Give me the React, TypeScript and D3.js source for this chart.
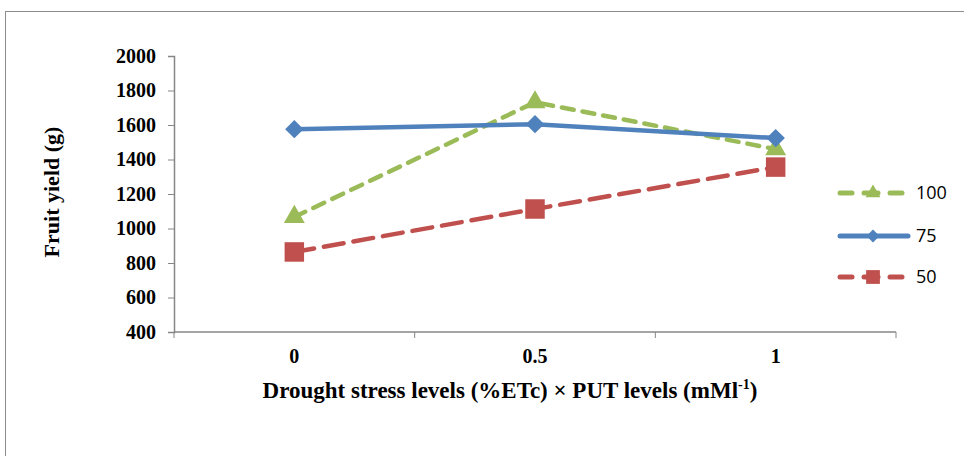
import { useEffect, useRef } from "react";
import * as d3 from "d3";

const W = 964;
const H = 456;
const M = { top: 56, left: 174, right: 68, bottom: 124 };

const categories = ["0", "0.5", "1"];
const yTicks = [400, 600, 800, 1000, 1200, 1400, 1600, 1800, 2000];

const series100 = [1067, 1732, 1460];
const series75 = [1576, 1605, 1524];
const series50 = [864, 1113, 1356];

const serif = "'Liberation Serif', 'Times New Roman', serif";

const seriesList = [
  { name: "100", values: series100, color: "#9BBB59", dash: "12,9", symbol: d3.symbolTriangle, size: 190, rot: 0 },
  { name: "75", values: series75, color: "#4F81BD", dash: "", symbol: d3.symbolSquare, size: 170, rot: 45 },
  { name: "50", values: series50, color: "#C0504D", dash: "20,10", symbol: d3.symbolSquare, size: 380, rot: 0 },
];

// draw order: 100, 50, 75 on top
const drawOrder = ["100", "50", "75"];

export default function App() {
  const svgRef = useRef<SVGSVGElement>(null);

  useEffect(() => {
    if (!svgRef.current) return;
    const root = d3.select(svgRef.current);
    root.selectAll("*").remove();

    // outer frame
    root
      .append("rect")
      .attr("x", 5.5)
      .attr("y", 11.5)
      .attr("width", W + 20)
      .attr("height", H + 20)
      .attr("fill", "white")
      .attr("stroke", "#8c8c8c")
      .attr("stroke-width", 1);

    const innerW = W - M.left - M.right;
    const innerH = H - M.top - M.bottom;

    const x = d3.scaleBand<string>().domain(categories).range([0, innerW]);
    const y = d3.scaleLinear().domain([400, 2000]).range([innerH, 0]);

    const g = root.append("g").attr("transform", `translate(${M.left},${M.top})`);

    // y axis
    g.append("g")
      .call(d3.axisLeft(y).tickValues(yTicks).tickSize(6).tickPadding(12).tickFormat((d) => String(d)))
      .call((a) => a.selectAll("line").attr("stroke", "#868686"))
      .call((a) => a.select(".domain").attr("stroke", "#868686").attr("stroke-width", 1.5))
      .call((a) =>
        a
          .selectAll("text")
          .attr("fill", "#000")
          .attr("font-family", serif)
          .attr("font-weight", "bold")
          .attr("font-size", 20)
      );

    // x axis with boundary ticks
    const xa = g.append("g").attr("transform", `translate(0,${innerH})`);
    xa.append("line")
      .attr("x1", 0)
      .attr("x2", innerW)
      .attr("stroke", "#868686")
      .attr("stroke-width", 1.5);
    const bounds = [...categories.map((c) => x(c) ?? 0), innerW];
    xa.selectAll("line.tk")
      .data(bounds)
      .join("line")
      .attr("class", "tk")
      .attr("x1", (d) => d)
      .attr("x2", (d) => d)
      .attr("y1", 0)
      .attr("y2", 6)
      .attr("stroke", "#868686");
    xa.selectAll("text")
      .data(categories)
      .join("text")
      .attr("x", (d) => (x(d) ?? 0) + x.bandwidth() / 2)
      .attr("y", 31)
      .attr("text-anchor", "middle")
      .attr("font-family", serif)
      .attr("font-weight", "bold")
      .attr("font-size", 20)
      .text((d) => d);

    // axis titles
    const xt = root
      .append("text")
      .attr("x", 510)
      .attr("y", 398)
      .attr("text-anchor", "middle")
      .attr("font-family", serif)
      .attr("font-weight", "bold")
      .attr("font-size", 23);
    xt.append("tspan").text("Drought stress levels (%ETc) × PUT levels (mMl");
    xt.append("tspan").attr("dy", -9).attr("font-size", 14).text("-1");
    xt.append("tspan").attr("dy", 9).text(")");

    root
      .append("text")
      .attr("transform", `translate(59,192) rotate(-90)`)
      .attr("text-anchor", "middle")
      .attr("font-family", serif)
      .attr("font-weight", "bold")
      .attr("font-size", 22)
      .text("Fruit yield (g)");

    const cx = (i: number) => (x(categories[i]) ?? 0) + x.bandwidth() / 2;

    drawOrder.forEach((nm) => {
      const s = seriesList.find((d) => d.name === nm)!;
      const line = d3
        .line<number>()
        .x((_, i) => cx(i))
        .y((d) => y(d));
      g.append("path")
        .datum(s.values)
        .attr("d", line)
        .attr("fill", "none")
        .attr("stroke", s.color)
        .attr("stroke-width", 4.5)
        .attr("stroke-linecap", s.dash ? "round" : "butt")
        .attr("stroke-dasharray", s.dash || null);
      g.selectAll(null)
        .data(s.values)
        .join("path")
        .attr("transform", (d, i) => `translate(${cx(i)},${y(d)}) rotate(${s.rot})`)
        .attr("d", d3.symbol().type(s.symbol).size(s.size)())
        .attr("fill", s.color);
    });

    // legend
    const lg = root.append("g").attr("transform", "translate(838,0)");
    const legendY = [193, 236, 277];
    seriesList.forEach((s, i) => {
      const row = lg.append("g").attr("transform", `translate(0,${legendY[i]})`);
      if (s.dash) {
        [
          [0, 14],
          [24, 40],
          [50, 64],
        ].forEach(([a, b]) =>
          row
            .append("line")
            .attr("x1", a + 2)
            .attr("x2", b)
            .attr("stroke", s.color)
            .attr("stroke-width", 5)
            .attr("stroke-linecap", "round")
        );
      } else {
        row
          .append("line")
          .attr("x1", 2)
          .attr("x2", 70)
          .attr("stroke", s.color)
          .attr("stroke-width", 5)
          .attr("stroke-linecap", "round");
      }
      row
        .append("path")
        .attr("transform", `translate(35,0) rotate(${s.rot})`)
        .attr("d", d3.symbol().type(s.symbol).size(s.size * 0.5)())
        .attr("fill", s.color);
      row
        .append("text")
        .attr("x", 78)
        .attr("y", 6)
        .attr("font-family", "'Open Sans', 'Liberation Sans', sans-serif")
        .attr("font-size", 18)
        .text(s.name);
    });
  }, []);

  return (
    <svg
      ref={svgRef}
      width={W}
      height={H}
      viewBox={`0 0 ${W} ${H}`}
      style={{ position: "absolute", left: 0, top: 0, display: "block" }}
    />
  );
}
